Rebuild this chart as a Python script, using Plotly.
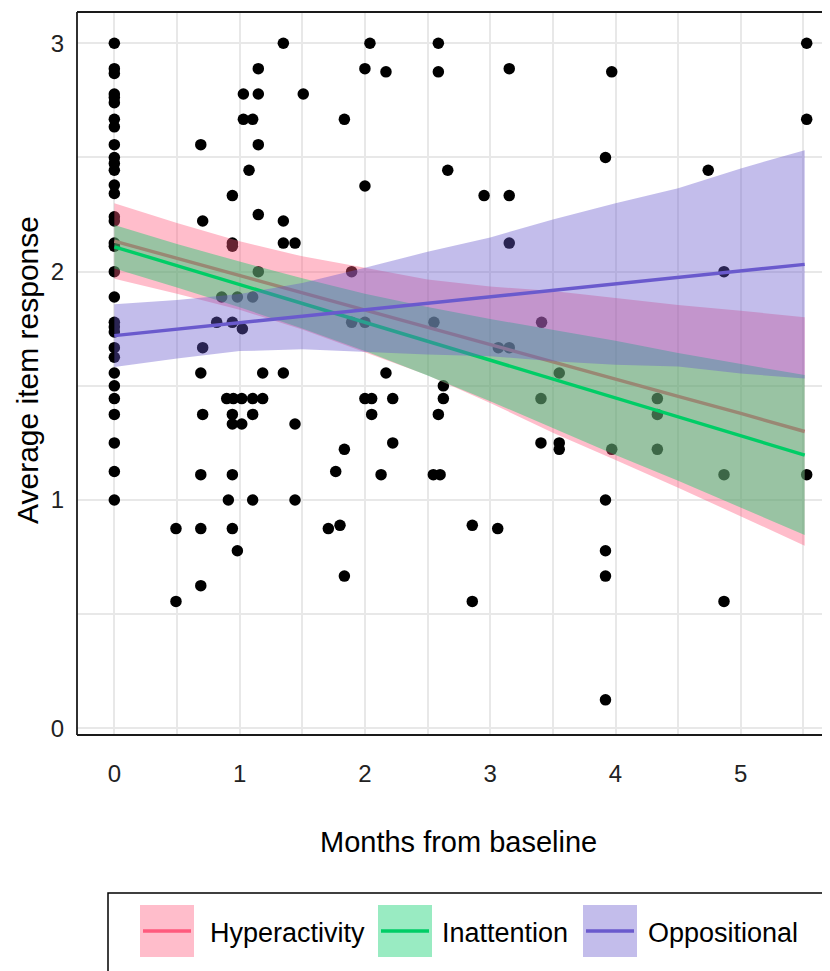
import plotly.graph_objects as go

# ---------------- data ----------------
# scatter points (months from baseline, average item response)
x0_y = [3.0, 2.889, 2.868, 2.778, 2.763, 2.74, 2.667, 2.634, 2.556, 2.5, 2.474, 2.444,
        2.379, 2.342, 2.24, 2.222, 2.125, 2.111, 2.0, 1.889, 1.778, 1.758, 1.736, 1.667,
        1.625, 1.556, 1.5, 1.444, 1.375, 1.25, 1.125, 1.0]
pts_x = [0.0] * len(x0_y) + [
    1.349, 1.149, 1.03, 1.149, 1.508, 1.03, 1.104, 0.69, 1.149, 1.075, 0.942, 1.149,
    0.705, 1.349, 0.942, 0.942, 1.349, 1.442, 1.149, 0.857, 0.982, 1.104, 0.817, 0.942,
    1.022, 0.705, 0.69, 1.184, 1.349,
    0.897, 0.95, 1.017, 1.104, 1.184, 0.705, 0.942, 1.104, 0.942, 1.017, 1.442, 0.69,
    0.942, 0.91, 1.104, 1.442, 0.492, 0.69, 0.942, 0.982, 0.69, 0.492,
    2.04, 2.586, 2.0, 2.168, 2.586, 3.152, 1.836, 2.0, 2.661, 2.951, 3.152, 3.152,
    1.894, 1.894, 2.0, 2.551, 3.41, 3.065, 3.152, 2.168, 2.626, 3.551,
    2.0, 2.054, 2.222, 2.626, 3.405, 2.054, 2.586, 2.222, 3.405, 3.551, 3.551, 1.836,
    1.767, 2.129, 2.546, 2.6, 1.708, 1.801, 1.836, 2.857, 3.06, 2.857,
    3.97, 5.526, 5.526, 3.92, 4.74, 4.866, 4.334, 4.334, 3.97, 4.334, 4.866, 5.526,
    3.92, 3.92, 3.92, 4.866, 3.92]
pts_y = x0_y + [
    3.0, 2.889, 2.778, 2.778, 2.778, 2.667, 2.667, 2.556, 2.556, 2.444, 2.333, 2.25,
    2.222, 2.222, 2.125, 2.111, 2.125, 2.125, 2.0, 1.889, 1.889, 1.889, 1.778, 1.778,
    1.75, 1.667, 1.556, 1.556, 1.556,
    1.444, 1.444, 1.444, 1.444, 1.444, 1.375, 1.375, 1.375, 1.333, 1.333, 1.333, 1.111,
    1.111, 1.0, 1.0, 1.0, 0.875, 0.875, 0.875, 0.778, 0.625, 0.556,
    3.0, 3.0, 2.889, 2.875, 2.875, 2.889, 2.667, 2.375, 2.444, 2.333, 2.333, 2.125,
    2.0, 1.778, 1.778, 1.778, 1.778, 1.667, 1.667, 1.556, 1.5, 1.556,
    1.444, 1.444, 1.444, 1.444, 1.444, 1.375, 1.375, 1.25, 1.25, 1.25, 1.222, 1.222,
    1.125, 1.111, 1.111, 1.111, 0.875, 0.889, 0.667, 0.889, 0.875, 0.556,
    2.875, 3.0, 2.667, 2.5, 2.444, 2.0, 1.444, 1.375, 1.222, 1.222, 1.111, 1.111,
    1.0, 0.778, 0.667, 0.556, 0.125]

# fitted lines and confidence bands
fit_x = [0, 0.5, 1, 1.5, 2, 2.5, 3, 3.5, 4, 4.5, 5, 5.51]

hyper_fit = [2.134, 2.058, 1.983, 1.907, 1.832, 1.756, 1.680, 1.605, 1.530, 1.454, 1.379, 1.300]
hyper_hi = [2.299, 2.213, 2.133, 2.067, 2.017, 1.966, 1.935, 1.915, 1.885, 1.854, 1.829, 1.800]
hyper_lo = [1.969, 1.903, 1.833, 1.747, 1.647, 1.546, 1.425, 1.295, 1.175, 1.054, 0.929, 0.800]

inatt_fit = [2.109, 2.026, 1.944, 1.861, 1.778, 1.695, 1.613, 1.530, 1.447, 1.364, 1.282, 1.197]
inatt_hi = [2.204, 2.121, 2.044, 1.971, 1.903, 1.845, 1.793, 1.745, 1.697, 1.644, 1.597, 1.547]
inatt_lo = [2.014, 1.931, 1.844, 1.751, 1.653, 1.545, 1.433, 1.315, 1.197, 1.084, 0.967, 0.847]

oppos_fit = [1.720, 1.748, 1.777, 1.805, 1.833, 1.862, 1.890, 1.918, 1.946, 1.975, 2.003, 2.032]
oppos_hi = [1.857, 1.876, 1.902, 1.950, 2.017, 2.087, 2.150, 2.228, 2.300, 2.365, 2.452, 2.532]
oppos_lo = [1.583, 1.620, 1.652, 1.660, 1.649, 1.637, 1.630, 1.608, 1.592, 1.585, 1.554, 1.532]

series_names = ["Hyperactivity", "Inattention", "Oppositional"]
line_colors = ["rgb(255,90,125)", "rgb(0,205,102)", "rgb(106,90,205)"]
fill_colors = ["rgba(255,90,125,0.4)", "rgba(0,205,102,0.4)", "rgba(106,90,205,0.4)"]

x_ticks = [0, 1, 2, 3, 4, 5]
y_ticks = [0, 1, 2, 3]

# ---------------- figure ----------------
# the page body has an 8px margin, so figure coordinates = screen coordinates - 8
OFF = 8
W, H = 830 - OFF, 971 - OFF
L, R, T, B = 77 - OFF, 830 - OFF, 12 - OFF, 735 - OFF


def px(x):
    return (x - OFF - L) / (R - L)


def py(y):
    return (B - (y - OFF)) / (B - T)


FONT = "Liberation Sans, Arial, sans-serif"

fig = go.Figure()
fig.add_trace(go.Scatter(x=pts_x, y=pts_y, mode="markers",
                         marker=dict(color="black", size=11.5, line=dict(width=0)),
                         showlegend=False, hoverinfo="skip"))

series = [(hyper_fit, hyper_hi, hyper_lo), (inatt_fit, inatt_hi, inatt_lo),
          (oppos_fit, oppos_hi, oppos_lo)]
for i, (fit, hi, lo) in enumerate(series):
    fig.add_trace(go.Scatter(x=fit_x + fit_x[::-1], y=hi + lo[::-1], mode="lines",
                             fill="toself", fillcolor=fill_colors[i],
                             line=dict(width=0, color=fill_colors[i]),
                             showlegend=False, hoverinfo="skip"))
    fig.add_trace(go.Scatter(x=fit_x, y=fit, mode="lines",
                             line=dict(color=line_colors[i], width=3.4),
                             name=series_names[i], showlegend=False))

grid = "#E8E8E8"
fig.update_layout(
    width=W, height=H,
    margin=dict(l=L, r=W - R, t=T, b=H - B, pad=0),
    paper_bgcolor="white", plot_bgcolor="white",
    font=dict(family=FONT, color="black"),
    showlegend=False,
    xaxis=dict(range=[-0.298, 5.712], tickvals=x_ticks, ticktext=[str(v) for v in x_ticks],
               showgrid=True, gridcolor=grid, gridwidth=1.6,
               minor=dict(dtick=0.5, showgrid=True, gridcolor=grid, gridwidth=1.6),
               zeroline=False, showline=False, ticks="",
               tickfont=dict(size=24, color="#222222", family=FONT),
               ticklabelstandoff=22),
    yaxis=dict(range=[-0.029, 3.137], tickvals=y_ticks, ticktext=[str(v) for v in y_ticks],
               showgrid=True, gridcolor=grid, gridwidth=1.6,
               minor=dict(dtick=0.5, showgrid=True, gridcolor=grid, gridwidth=1.6),
               zeroline=False, showline=False, ticks="",
               tickfont=dict(size=24, color="#222222", family=FONT),
               ticklabelstandoff=12),
)

shapes = []
# panel border (right side falls outside the picture)
for (xa, ya, xb, yb) in [(0, 0, 0, 1), (0, 1, 1, 1), (0, 0, 1, 0)]:
    shapes.append(dict(type="line", xref="paper", yref="paper", x0=xa, y0=ya, x1=xb, y1=yb,
                       line=dict(color="#1a1a1a", width=1.8), layer="above"))

# legend box
shapes.append(dict(type="rect", xref="paper", yref="paper", x0=px(108), x1=px(825),
                   y0=py(1000), y1=py(893), line=dict(color="black", width=1.5),
                   fillcolor="rgba(0,0,0,0)"))
key_left = [140, 378, 583]
text_left = [208, 440, 646]
annotations = []
for i in range(3):
    shapes.append(dict(type="rect", xref="paper", yref="paper",
                       x0=px(key_left[i]), x1=px(key_left[i] + 54),
                       y0=py(957), y1=py(905), line=dict(width=0),
                       fillcolor=fill_colors[i]))
    shapes.append(dict(type="line", xref="paper", yref="paper",
                       x0=px(key_left[i] + 3), x1=px(key_left[i] + 51),
                       y0=py(931), y1=py(931),
                       line=dict(color=line_colors[i], width=3.4)))
    annotations.append(dict(text=series_names[i], xref="paper", yref="paper",
                            x=px(text_left[i]), y=py(933), xanchor="left", yanchor="middle",
                            showarrow=False, font=dict(size=27, color="black", family=FONT)))

annotations.append(dict(text="Months from baseline", xref="paper", yref="paper",
                        x=px(458), y=py(842), xanchor="center", yanchor="middle",
                        showarrow=False, font=dict(size=29, color="black", family=FONT)))
annotations.append(dict(text="Average item response", xref="paper", yref="paper",
                        x=px(27), y=py(370), xanchor="center", yanchor="middle",
                        textangle=-90, showarrow=False,
                        font=dict(size=30, color="black", family=FONT)))

fig.update_layout(shapes=shapes, annotations=annotations)
fig.write_html("out.html")
